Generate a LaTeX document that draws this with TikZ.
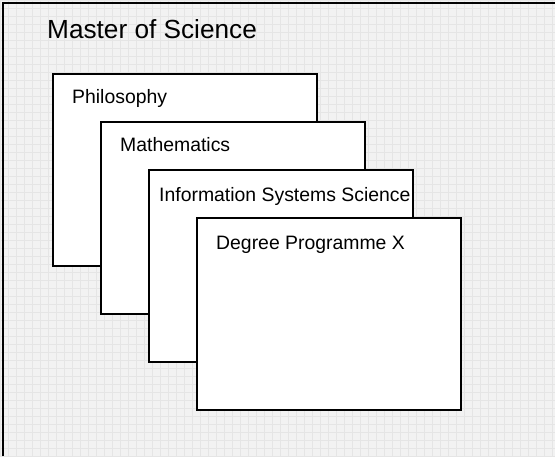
\documentclass[tikz,border=0pt]{standalone}
\usepackage{fontspec}
\setmainfont{Liberation Sans}
\usepackage{tikz}
\usetikzlibrary{positioning}

\tikzset{
  prog/.style={draw, fill=white, line width=1.6pt, anchor=north west,
    minimum width=264pt, minimum height=192pt, inner sep=0pt},
  lbl/.style={anchor=base west, inner sep=0pt, font=\fontsize{19.4}{22}\selectfont}
}

\begin{document}
\begin{tikzpicture}[x=1pt, y=-1pt]
        \useasboundingbox (0,0) rectangle (555,456);

        % Hintergrund
        \fill[black!5] (0,0) rectangle (555,456);
        \draw[black!10, line width=0.6pt, step=8pt] (0,0) grid (555,456);
        \draw[line width=2.2pt] (3,456) -- (3,3) -- (555,3);

        \node[anchor=base west, inner sep=0pt, font=\fontsize{26.2}{30}\selectfont] (title) at (47,38) {Master of Science};

        % Studiengaenge
        \node[prog] (phil) at (52,73) {};
        \node[lbl] (philtxt) at ([xshift=20pt, yshift=-30pt]phil.north west) {Philosophy};

        \node[prog] (math) at (100,121) {};
        \node[lbl] (mathtxt) at ([xshift=20pt, yshift=-30pt]math.north west) {Mathematics};

        \node[prog] (iss) at (148,169) {};
        \node[lbl] (isstxt) at ([xshift=11pt, yshift=-32pt]iss.north west) {Information Systems Science};

        \node[prog] (dpx) at (196,217) {};
        \node[lbl] (dpxtxt) at ([xshift=20pt, yshift=-32pt]dpx.north west) {Degree Programme X};
    \end{tikzpicture}
\end{document}
